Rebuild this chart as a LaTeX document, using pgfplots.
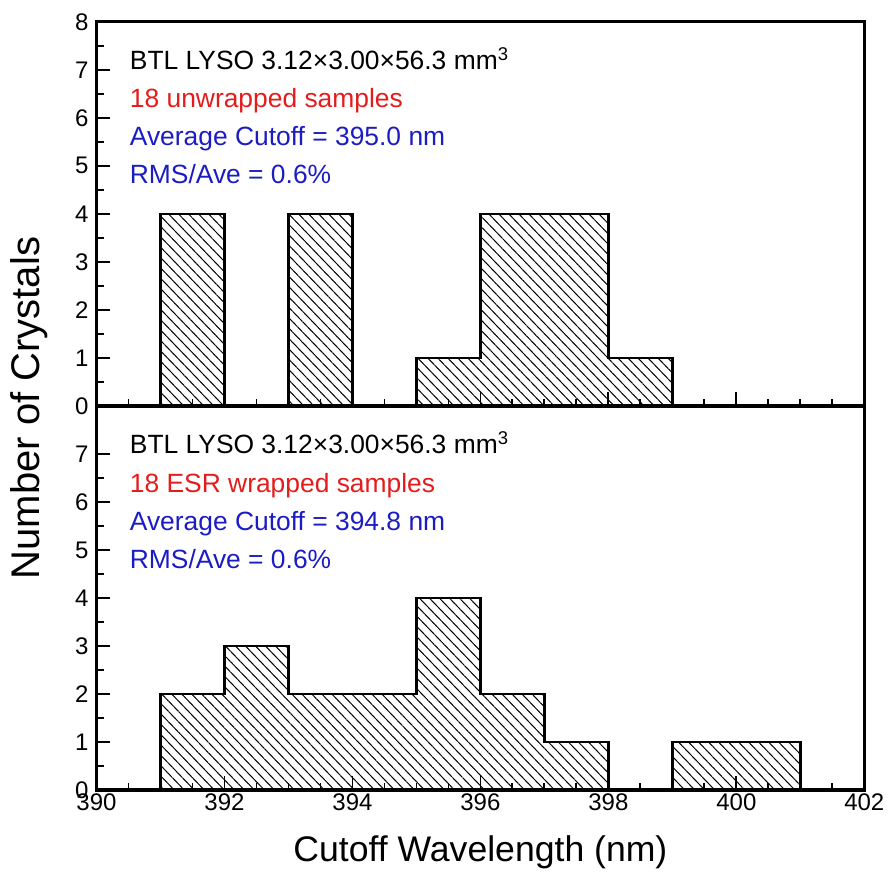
\documentclass[border=0pt]{standalone}
\usepackage{fontspec}
\setmainfont{Liberation Sans}
\usepackage{pgfplots}
\pgfplotsset{compat=1.18}
\usetikzlibrary{patterns.meta}
\definecolor{annred}{RGB}{228,28,28}
\definecolor{annblue}{RGB}{28,28,196}
\pgfplotsset{
 panel/.style={
  scale only axis, width=383.9pt, height=192pt,
  xmin=390,xmax=402,ymin=0,ymax=8,
  axis on top,
  axis line style={line width=1.6pt},
  xtick={390,392,...,402}, minor x tick num=3,
  minor y tick num=1,
  tick align=inside, xtick pos=bottom, ytick pos=left,
  major tick length=7pt, minor tick length=3.5pt,
  tick style={line width=0.9pt, black},
  every tick label/.style={font=\fontsize{12}{14}\selectfont},
  /pgf/number format/assume math mode=true,
  /pgf/number format/1000 sep={},
  xticklabel style={yshift=1.5pt},
  yticklabel style={xshift=-0.5pt},
  anchor=south west,
 },
 histfill/.style={ybar interval, draw=none,
   pattern={Lines[angle=-46,distance=3.6pt,line width=0.5pt]}},
 histline/.style={const plot, black, line width=1.2pt, mark=none},
}
\tikzset{ann/.style={anchor=base west, inner sep=0pt, font=\fontsize{13.2}{15}\selectfont}}
\begin{document}
\begin{tikzpicture}
\useasboundingbox (0,0) rectangle (447pt,439.5pt);
% top panel
\begin{axis}[panel, at={(48.25pt,236.6pt)}, ytick={0,...,8}, xticklabels={}]
\addplot[histfill] coordinates {(391,4) (392,0) (393,4) (394,0) (395,1) (396,4) (397,4) (398,1) (399,1)};
\addplot[histline] coordinates {(391,0) (391,4) (392,0) (393,4) (394,0) (395,1) (396,4) (397,4) (398,1) (399,1) (399,0)};
\node[ann] at (rel axis cs:0.043,0.876) {BTL LYSO 3.12×3.00×56.3 mm\textsuperscript{3}};
\node[ann, text=annred] at (rel axis cs:0.043,0.778) {18 unwrapped samples};
\node[ann, text=annblue] at (rel axis cs:0.043,0.679) {Average Cutoff = 395.0 nm};
\node[ann, text=annblue] at (rel axis cs:0.043,0.579) {RMS/Ave = 0.6\%};
\end{axis}
% bottom panel
\begin{axis}[panel, at={(48.25pt,44.5pt)}, ytick={0,...,7}]
\addplot[histfill] coordinates {(391,2) (392,3) (393,2) (394,2) (395,4) (396,2) (397,1) (398,0) (399,1) (400,1) (401,1)};
\addplot[histline] coordinates {(391,0) (391,2) (392,3) (393,2) (394,2) (395,4) (396,2) (397,1) (398,0) (399,1) (400,1) (401,1) (401,0)};
\node[ann] at (rel axis cs:0.043,0.876) {BTL LYSO 3.12×3.00×56.3 mm\textsuperscript{3}};
\node[ann, text=annred] at (rel axis cs:0.043,0.776) {18 ESR wrapped samples};
\node[ann, text=annblue] at (rel axis cs:0.043,0.677) {Average Cutoff = 394.8 nm};
\node[ann, text=annblue] at (rel axis cs:0.043,0.578) {RMS/Ave = 0.6\%};
\end{axis}
\node[rotate=90, font=\fontsize{20}{24}\selectfont] at (14.5pt,235.5pt) {Number of Crystals};
\node[anchor=base, font=\fontsize{17.8}{20}\selectfont] at (240.2pt,8.6pt) {Cutoff Wavelength (nm)};
\end{tikzpicture}
\end{document}
